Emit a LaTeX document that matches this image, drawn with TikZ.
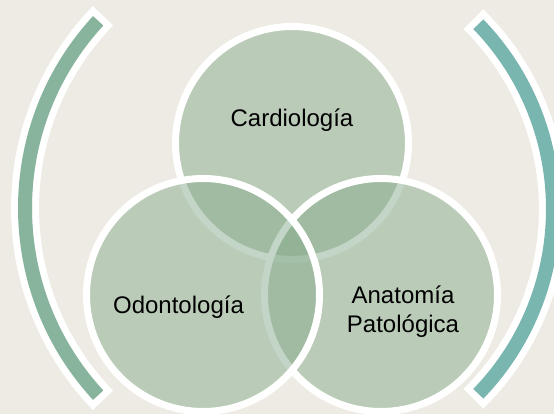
\documentclass[tikz,border=0pt]{standalone}
\usepackage{fontspec}
\setmainfont{Liberation Sans}
\usepackage{xcolor}
\usepackage{tikz}
\definecolor{paper}{HTML}{EEEBE4}
\definecolor{vennfill}{HTML}{88AC8E}
\definecolor{leftband}{HTML}{88B49E}
\definecolor{rightband}{HTML}{7AB6B0}
\tikzset{
  venn/.style={circle, minimum size=233pt, inner sep=0pt, draw=white, line width=7pt, fill=vennfill, fill opacity=0.5},
  vlabel/.style={font=\fontsize{24}{29}\selectfont, text=black, align=center, anchor=base},
  bandedge/.style={white, line width=28pt},
}
\begin{document}
\begin{tikzpicture}[x=1pt, y=-1pt]
  \useasboundingbox (0,0) rectangle (554,414);
  \clip (0,0) rectangle (554,414);
  \fill[paper] (0,0) rectangle (554,414);
  % left bracket
  \draw[bandedge] (301,208) ++(135.85:276) arc[start angle=135.85, end angle=224.15, radius=276];
  \draw[leftband, line width=14pt] (301,208) ++(137.3:276) arc[start angle=137.3, end angle=222.7, radius=276];
  % right bracket
  \draw[bandedge] (287,209) ++(-45.5:266) arc[start angle=-45.5, end angle=45.5, radius=266];
  \draw[rightband, line width=14pt] (287,209) ++(-44:266) arc[start angle=-44, end angle=44, radius=266];
  % circles
  \node[venn] (cardio) at (292,143) {};
  \node[venn] (anato) at (381,295) {};
  \node[venn] (odonto) at (203,295) {};
  \node[vlabel] (cardiotext) at (292,127) {Cardiología};
  \node[vlabel] (odontotext) at (178.5,313) {Odontología};
  \node[vlabel] (anatotext) at (403,332) {Anatomía\\Patológica};
\end{tikzpicture}
\end{document}
